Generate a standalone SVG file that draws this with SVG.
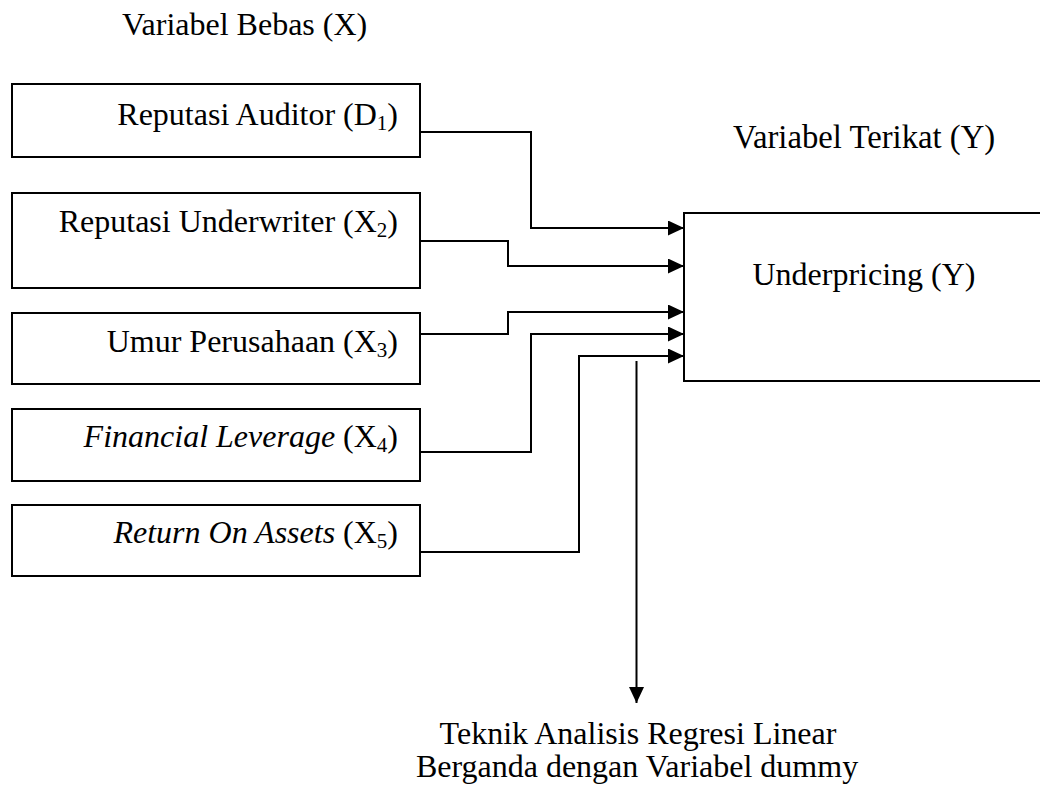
<svg xmlns="http://www.w3.org/2000/svg" width="1040" height="787" viewBox="0 0 1040 787" font-family="'Liberation Serif', 'Times New Roman', 'DejaVu Serif', serif" font-size="32">
<style>
.box{fill:#fff;stroke:#000;stroke-width:2}
.ln{fill:none;stroke:#000;stroke-width:2}
.r{text-anchor:end}
.m{text-anchor:middle}
.sub{font-size:21px}
</style>
<defs>
<marker id="ah" markerWidth="16" markerHeight="15" refX="16" refY="7.5" orient="auto" markerUnits="userSpaceOnUse">
<path d="M0,0 L16,7.5 L0,15 Z" fill="#000"/>
</marker>
</defs>
<text x="122" y="35">Variabel Bebas (X)</text>
<text x="733" y="148" font-size="32.7">Variabel Terikat (Y)</text>
<g id="x1"><rect class="box" x="12" y="84" width="408" height="73"/><text class="r" x="398" y="125">Reputasi Auditor (D<tspan class="sub" dy="5">1</tspan><tspan dy="-5">)</tspan></text></g>
<g id="x2"><rect class="box" x="12" y="193" width="408" height="95"/><text class="r" x="398" y="232">Reputasi Underwriter (X<tspan class="sub" dy="5">2</tspan><tspan dy="-5">)</tspan></text></g>
<g id="x3"><rect class="box" x="12" y="313" width="408" height="71"/><text class="r" x="398" y="352">Umur Perusahaan (X<tspan class="sub" dy="5">3</tspan><tspan dy="-5">)</tspan></text></g>
<g id="x4"><rect class="box" x="12" y="409" width="408" height="72"/><text class="r" x="398" y="447"><tspan font-style="italic">Financial Leverage</tspan> (X<tspan class="sub" dy="5">4</tspan><tspan dy="-5">)</tspan></text></g>
<g id="x5"><rect class="box" x="12" y="505" width="408" height="71"/><text class="r" x="398" y="543"><tspan font-style="italic">Return On Assets</tspan> (X<tspan class="sub" dy="5">5</tspan><tspan dy="-5">)</tspan></text></g>
<g id="y"><rect class="box" x="684" y="213" width="370" height="168"/><text class="m" x="864" y="285">Underpricing (Y)</text></g>
<g id="connectors">
<polyline class="ln" points="420,132 531,132 531,228 684,228" marker-end="url(#ah)"/>
<polyline class="ln" points="420,241 508,241 508,266 684,266" marker-end="url(#ah)"/>
<polyline class="ln" points="420,334 508,334 508,312 684,312" marker-end="url(#ah)"/>
<polyline class="ln" points="420,452 531,452 531,334 684,334" marker-end="url(#ah)"/>
<polyline class="ln" points="420,552 579,552 579,356 684,356" marker-end="url(#ah)"/>
<line class="ln" x1="636.5" y1="361" x2="636.5" y2="703" marker-end="url(#ah)"/>
</g>
<g id="teknik"><text class="m" x="638" y="744">Teknik Analisis Regresi Linear</text><text class="m" x="637" y="777">Berganda dengan Variabel dummy</text></g>
</svg>
